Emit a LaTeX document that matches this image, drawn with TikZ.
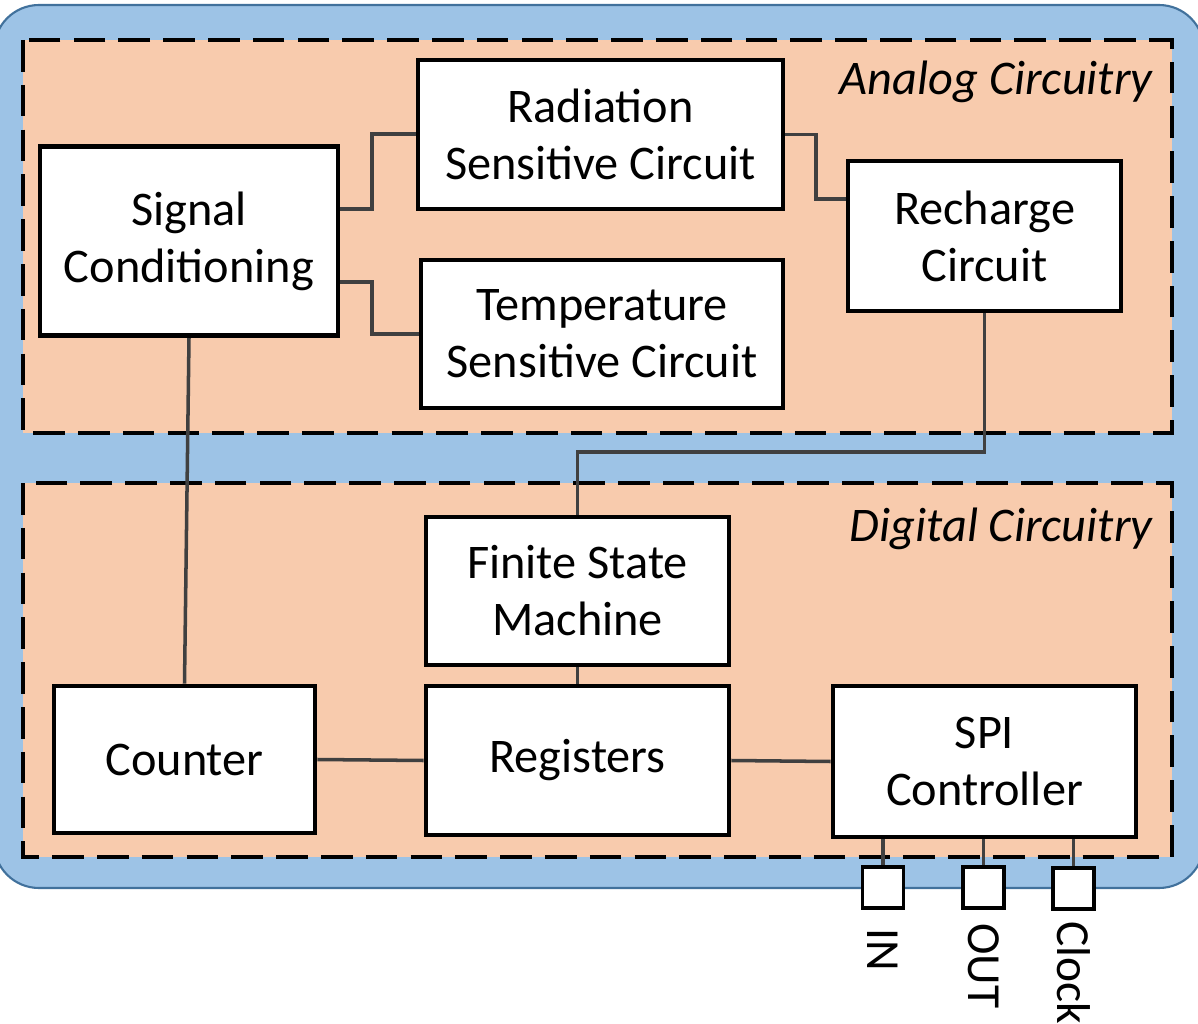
\documentclass[tikz,border=0pt]{standalone}
\usepackage{fontspec}
\setmainfont{Carlito}
\definecolor{peach}{HTML}{F8CBAD}
\definecolor{blueF}{HTML}{9DC3E6}
\definecolor{blueD}{HTML}{41719C}
\definecolor{wireg}{HTML}{404040}
\pgfdeclarelayer{bg}
\pgfdeclarelayer{wires}
\pgfsetlayers{bg,wires,main}
\begin{document}
\begin{tikzpicture}[x=0.02cm,y=-0.02cm,
 blk/.style={draw=black, line width=2.8pt, fill=white, inner sep=0pt, align=center, font=\fontsize{27.5}{32.5}\selectfont},
 wire/.style={draw=wireg, line width=2pt},
 region/.style={draw=black, fill=peach, line width=2.3pt, dash pattern=on 18pt off 7.5pt},
 pin/.style={draw=black, fill=white, line width=2.2pt, minimum size=41*0.02cm, inner sep=0pt},
 lbl/.style={font=\fontsize{27.5}{32.5}\selectfont\itshape, inner sep=0pt},
 pinlbl/.style={font=\fontsize{27}{32}\selectfont, rotate=-90, anchor=west, inner sep=0pt}]
\path[use as bounding box] (0,0) rectangle (1198,1024);
\begin{pgfonlayer}{bg}
\draw[fill=blueF, draw=blueD, line width=1.2pt, rounded corners=0.9cm] (-6,5) rectangle (1204,888);
\draw[region] (23,40) rectangle (1172,433);
\draw[region] (23,483) rectangle (1172,857);
\end{pgfonlayer}
\node[lbl, anchor=east] (alab) at (1153,82) {Analog Circuitry};
\node[lbl, anchor=east] (dlab) at (1153,529) {Digital Circuitry};
\node[blk, minimum width=298*0.02cm, minimum height=189*0.02cm] (sc) at (189,241) {Signal\\Conditioning};
\node[blk, minimum width=365*0.02cm, minimum height=149*0.02cm] (rad) at (600.5,134.5) {Radiation\\Sensitive Circuit};
\node[blk, minimum width=362*0.02cm, minimum height=148*0.02cm] (temp) at (602,334) {Temperature\\Sensitive Circuit};
\node[blk, minimum width=273*0.02cm, minimum height=150*0.02cm] (rec) at (984.5,236) {Recharge\\Circuit};
\node[blk, minimum width=303*0.02cm, minimum height=148*0.02cm] (fsm) at (577.5,591) {Finite State\\Machine};
\node[blk, minimum width=261*0.02cm, minimum height=147*0.02cm] (cnt) at (184.5,759.5) {Counter};
\node[blk, minimum width=303*0.02cm, minimum height=149*0.02cm] (reg) at (577.5,760.5) {Registers};
\node[blk, minimum width=303*0.02cm, minimum height=151*0.02cm] (spi) at (984.5,761.5) {SPI\\Controller};
\node[pin] (in) at (883,887.5) {};
\node[pin] (out) at (983.5,887.5) {};
\node[pin] (clk) at (1073.5,888.5) {};
\node[pinlbl] (inl) at (883,928) {IN};
\node[pinlbl] (outl) at (983.5,923) {OUT};
\node[pinlbl] (clkl) at (1073.5,921) {Clock};
\begin{pgfonlayer}{wires}
\draw[wire] (sc.east |- 0,209) -- (372,209) -- (372,134) -- (rad.west |- 0,134);
\draw[wire] (sc.east |- 0,282) -- (372,282) -- (372,334) -- (temp.west);
\draw[wire] (rad.east) -- (816,134.5) -- (816,199) -- (rec.west |- 0,199);
\draw[wire] (rec.south) -- (984.5,452) -- (577.5,452) -- (fsm.north);
\draw[wire] (sc.south) -- (cnt.north);
\draw[wire] (fsm.south) -- (reg.north);
\draw[wire] (cnt.east) -- (reg.west);
\draw[wire] (reg.east) -- (spi.west);
\draw[wire] (in.north |- spi.south) -- (in.north);
\draw[wire] (out.north |- spi.south) -- (out.north);
\draw[wire] (clk.north |- spi.south) -- (clk.north);
\end{pgfonlayer}
\end{tikzpicture}
\end{document}
